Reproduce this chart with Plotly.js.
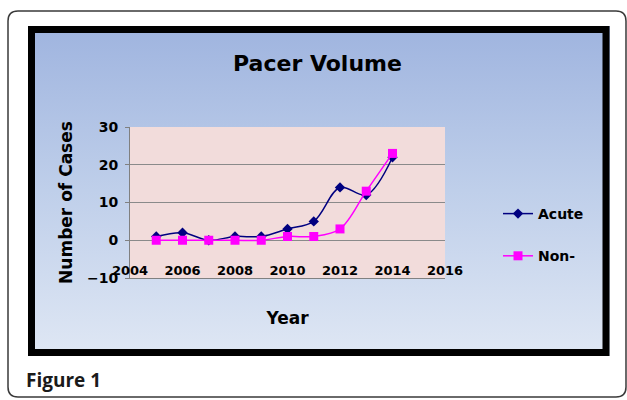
<!DOCTYPE html>
<html>
<head>
<meta charset="utf-8">
<script src="https://cdn.plot.ly/plotly-3.0.1.min.js"></script>
<style>
  html, body { margin: 0; padding: 0; background: #ffffff; }
  #wrap { position: relative; width: 627px; height: 400px; }
  #grad { position: absolute; left: 28px; top: 26px; width: 582px; height: 330px;
          background: linear-gradient(to bottom, #9fb4df 0%, #bfcfea 50%, #dfe7f4 100%); }
  #chart { position: absolute; left: 0; top: 0; width: 627px; height: 400px; }
</style>
</head>
<body>
<div id="wrap">
  <div id="grad"></div>
  <div id="chart"></div>
</div>
<script>
// ---- data ----
const years = [2005, 2006, 2007, 2008, 2009, 2010, 2011, 2012, 2013, 2014];
const acute = [1, 2, 0, 1, 1, 3, 5, 14, 12, 22];
const nonAcute = [0, 0, 0, 0, 0, 1, 1, 3, 13, 23];
const seriesNames = ["Acute", "Non-"];
const chartTitle = "Pacer Volume";
const xTitle = "Year";
const yTitle = "Number of Cases";
const caption = "Figure 1";

// ---- geometry helpers (pixel -> paper) ----
const W = 627, H = 400;
const M = { l: 130, r: 182, t: 127, b: 122 };
const PW = W - M.l - M.r, PH = H - M.t - M.b;
const px = x => (x - M.l) / PW;
const py = y => (H - M.b - y) / PH;

function roundedRectPath(x0, y0, x1, y1, r) {
  const P = (x, y) => px(x).toFixed(5) + ',' + py(y).toFixed(5);
  return 'M' + P(x0 + r, y0) + ' L' + P(x1 - r, y0) + ' Q' + P(x1, y0) + ' ' + P(x1, y0 + r) +
         ' L' + P(x1, y1 - r) + ' Q' + P(x1, y1) + ' ' + P(x1 - r, y1) +
         ' L' + P(x0 + r, y1) + ' Q' + P(x0, y1) + ' ' + P(x0, y1 - r) +
         ' L' + P(x0, y0 + r) + ' Q' + P(x0, y0) + ' ' + P(x0 + r, y0) + ' Z';
}

const BOLD = { family: 'DejaVu Sans', weight: 'bold', color: '#000000' };

const traces = [
  {
    x: years, y: acute, name: seriesNames[0], type: 'scatter', mode: 'lines+markers',
    line: { color: '#000080', width: 1.5, shape: 'spline' },
    marker: { symbol: 'diamond', size: 8, color: '#000080' },
    legendgroup: 'a'
  },
  {
    x: years, y: nonAcute, name: seriesNames[1], type: 'scatter', mode: 'lines+markers',
    line: { color: '#ff00ff', width: 1.5, shape: 'spline' },
    marker: { symbol: 'square', size: 9, color: '#ff00ff' },
    legendgroup: 'b'
  }
];

const layout = {
  width: W, height: H,
  margin: M,
  paper_bgcolor: 'rgba(0,0,0,0)',
  plot_bgcolor: '#f2dcdb',
  title: {
    text: chartTitle, x: 317.5 / W, xref: 'container', xanchor: 'center',
    y: 1 - 63 / H, yanchor: 'middle', yref: 'container',
    font: Object.assign({}, BOLD, { size: 22 })
  },
  xaxis: {
    range: [2004, 2016], dtick: 2, tick0: 2004,
    showgrid: false, zeroline: false,
    showline: true, linecolor: '#808080', linewidth: 1,
    ticks: '', ticklabelstandoff: -20,
    tickfont: Object.assign({}, BOLD, { size: 13 }),
    title: { text: xTitle, font: Object.assign({}, BOLD, { size: 17 }), standoff: 35 }
  },
  xaxis2: {
    overlaying: 'x', anchor: 'free', position: 0.25,
    range: [2004, 2016], dtick: 2, tick0: 2004,
    showgrid: false, zeroline: false, showline: false,
    ticks: 'outside', ticklen: 7, tickcolor: '#808080', showticklabels: false
  },
  yaxis: {
    range: [-10, 30], dtick: 10, tick0: -10,
    showgrid: true, gridcolor: '#8a8a8a', gridwidth: 1,
    zeroline: false,
    showline: true, linecolor: '#808080', linewidth: 1,
    ticks: 'outside', ticklen: 4, tickcolor: '#808080', ticklabelstandoff: 4,
    tickfont: Object.assign({}, BOLD, { size: 14 }),
    title: { text: yTitle, font: Object.assign({}, BOLD, { size: 17 }), standoff: 10 }
  },
  showlegend: true,
  legend: {
    x: px(498), xanchor: 'left', y: py(198), yanchor: 'top',
    bgcolor: 'rgba(0,0,0,0)', borderwidth: 0,
    traceorder: 'grouped', tracegroupgap: 21,
    font: Object.assign({}, BOLD, { size: 14 })
  },
  shapes: [
    { type: 'path', xref: 'paper', yref: 'paper', path: roundedRectPath(8, 11, 626, 397, 10),
      line: { color: '#3a3a3a', width: 1.5 }, fillcolor: 'rgba(0,0,0,0)', layer: 'below' },
    { type: 'rect', xref: 'paper', yref: 'paper',
      x0: px(31.5), x1: px(606), y0: py(29.5), y1: py(352.5),
      line: { color: '#000000', width: 7 }, fillcolor: 'rgba(0,0,0,0)', layer: 'below' }
  ],
  annotations: [
    { text: caption, xref: 'paper', yref: 'paper', x: px(24), xanchor: 'left',
      y: py(380), yanchor: 'middle', showarrow: false,
      font: { family: 'Open Sans', weight: 'bold', size: 19, color: '#1a1a1a' } }
  ]
};

Plotly.newPlot('chart', traces, layout, { displayModeBar: false, staticPlot: true });
</script>
</body>
</html>
